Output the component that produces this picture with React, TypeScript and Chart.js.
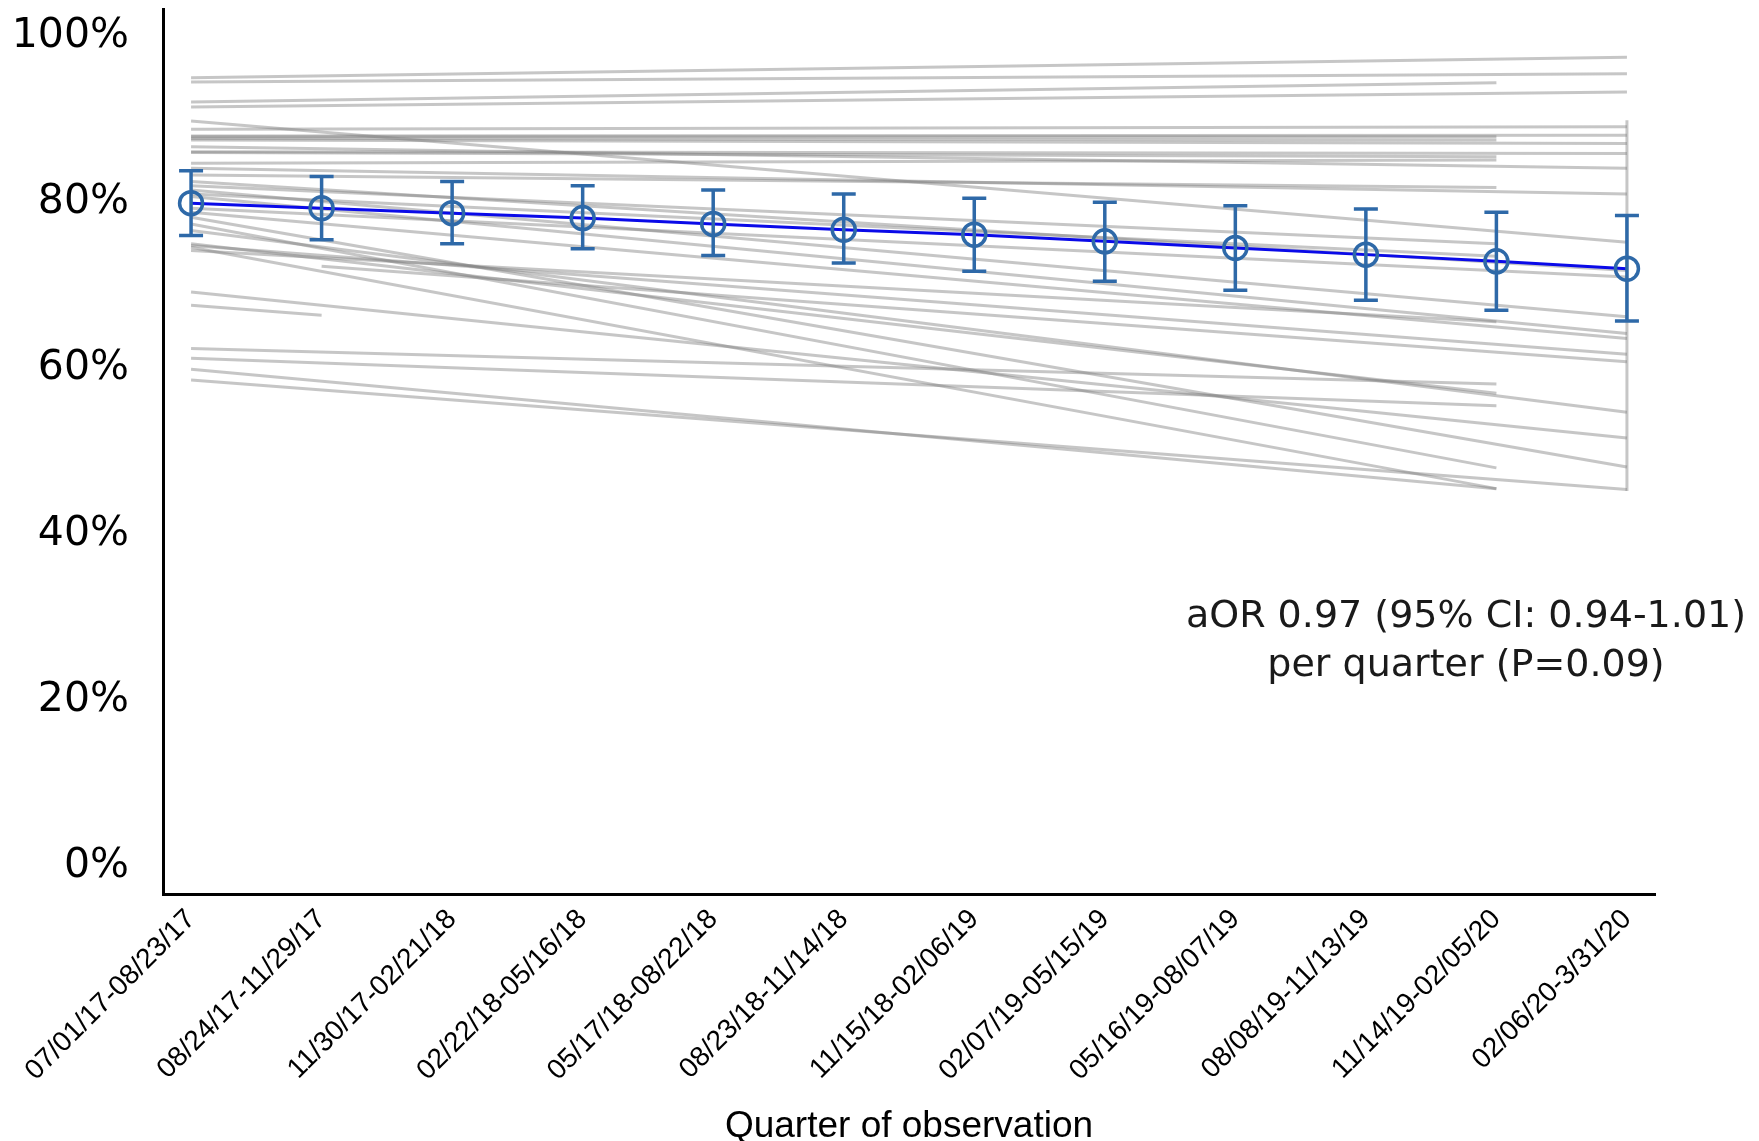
import React, { useEffect, useRef } from 'react';
import { Chart, registerables } from 'chart.js';

Chart.register(...registerables);

// ---------- data ----------
const quarterLabels = [
  '07/01/17-08/23/17',
  '08/24/17-11/29/17',
  '11/30/17-02/21/18',
  '02/22/18-05/16/18',
  '05/17/18-08/22/18',
  '08/23/18-11/14/18',
  '11/15/18-02/06/19',
  '02/07/19-05/15/19',
  '05/16/19-08/07/19',
  '08/08/19-11/13/19',
  '11/14/19-02/05/20',
  '02/06/20-3/31/20',
];

const trendPct = [79.4, 78.8, 78.2, 77.6, 76.9, 76.2, 75.6, 74.8, 74.0, 73.2, 72.4, 71.5];
const ciUpper = [83.3, 82.6, 82.0, 81.5, 81.0, 80.5, 80.0, 79.5, 79.1, 78.7, 78.3, 77.9];
const ciLower = [75.5, 75.0, 74.5, 73.9, 73.1, 72.2, 71.2, 70.0, 68.9, 67.7, 66.5, 65.2];

// individual sites: straight line from start quarter to end quarter (0-based quarter index)
const siteStartQ = [0, 0, 0, 0, 0, 0, 0, 0, 0, 0, 0, 0, 0, 0, 0, 0, 0, 0, 0, 0, 0, 0, 0, 0, 0, 0, 0, 0, 0, 0, 0, 0, 1, 0, 0, 0, 0];
const siteStartPct = [94.5, 94.0, 91.6, 91.0, 89.3, 88.3, 87.5, 87.4, 87.2, 87.0, 86.2, 85.6, 85.5, 84.2, 83.6, 82.8, 82.0, 81.5, 81.0, 80.5, 77.7, 78.8, 80.2, 76.9, 76.1, 78.3, 73.7, 74.3, 74.1, 74.5, 68.7, 67.1, 71.8, 61.9, 60.7, 59.4, 58.1];
const siteEndQ = [11, 11, 10, 11, 11, 11, 11, 10, 10, 11, 11, 11, 10, 10, 11, 10, 11, 10, 11, 10, 11, 11, 11, 10, 11, 11, 10, 11, 10, 10, 11, 1, 11, 10, 10, 10, 11];
const siteEndPct = [97.0, 95.0, 93.9, 92.8, 74.7, 88.6, 87.6, 87.4, 87.0, 86.6, 83.6, 85.4, 85.0, 84.6, 80.5, 81.3, 71.3, 74.5, 65.7, 73.0, 47.6, 70.5, 63.7, 47.5, 54.2, 63.1, 65.1, 61.2, 45.0, 56.5, 51.1, 65.9, 60.3, 57.6, 55.0, 45.0, 44.9];

// vertical range line drawn at the last quarter
const lastQuarterRange = [89.4, 44.7];

const yTickValues = [0, 20, 40, 60, 80, 100];

const annotationLines = ['aOR 0.97 (95% CI: 0.94-1.01)', 'per quarter (P=0.09)'];

// ---------- styles ----------
const GRAY = 'rgba(128,128,128,0.45)';
const TREND_BLUE = '#0A0AE8';
const CI_BLUE = '#2E69A8';

const errorBarPlugin = {
  id: 'errorBars',
  afterDatasetsDraw(chart: any) {
    const { ctx, scales } = chart;
    const x = scales.x;
    const y = scales.y;
    ctx.save();
    ctx.strokeStyle = CI_BLUE;
    ctx.lineWidth = 3.5;
    for (let i = 0; i < trendPct.length; i++) {
      const px = x.getPixelForValue(i);
      const top = y.getPixelForValue(ciUpper[i]);
      const bot = y.getPixelForValue(ciLower[i]);
      ctx.beginPath();
      ctx.moveTo(px, top);
      ctx.lineTo(px, bot);
      ctx.moveTo(px - 12, top);
      ctx.lineTo(px + 12, top);
      ctx.moveTo(px - 12, bot);
      ctx.lineTo(px + 12, bot);
      ctx.stroke();
    }
    ctx.restore();
  },
};

const annotationPlugin = {
  id: 'annotationText',
  afterDraw(chart: any) {
    const { ctx, chartArea } = chart;
    ctx.save();
    ctx.fillStyle = '#1a1a1a';
    ctx.font = '38px "DejaVu Sans"';
    ctx.textAlign = 'center';
    ctx.textBaseline = 'middle';
    const cx = chartArea.right - 189;
    ctx.fillText(annotationLines[0], cx, 617);
    ctx.fillText(annotationLines[1], cx, 666);
    ctx.restore();
  },
};

export default function App() {
  const canvasRef = useRef<HTMLCanvasElement | null>(null);

  useEffect(() => {
    document.body.style.margin = '0';
    const canvas = canvasRef.current;
    if (!canvas) return;

    const siteDatasets = siteStartQ.map((sq, i) => ({
      type: 'line' as const,
      data: [
        { x: sq, y: siteStartPct[i] },
        { x: siteEndQ[i], y: siteEndPct[i] },
      ],
      borderColor: GRAY,
      borderWidth: 3,
      pointRadius: 0,
      fill: false,
      tension: 0,
    }));

    const chart = new Chart(canvas, {
      type: 'line',
      data: {
        datasets: [
          {
            data: trendPct.map((v, i) => ({ x: i, y: v })),
            borderColor: TREND_BLUE,
            borderWidth: 3,
            pointRadius: 11.5,
            pointBorderWidth: 3.5,
            pointBorderColor: CI_BLUE,
            pointBackgroundColor: 'rgba(0,0,0,0)',
            pointStyle: 'circle',
            fill: false,
            tension: 0,
          },
          ...siteDatasets,
          {
            data: [
              { x: quarterLabels.length - 1, y: lastQuarterRange[0] },
              { x: quarterLabels.length - 1, y: lastQuarterRange[1] },
            ],
            borderColor: GRAY,
            borderWidth: 3,
            pointRadius: 0,
            fill: false,
          },
        ] as any,
      },
      options: {
        responsive: false,
        animation: false,
        events: [],
        layout: { autoPadding: false, padding: { top: 9, right: 104, bottom: 0, left: 0 } },
        plugins: {
          legend: { display: false },
          tooltip: { enabled: false },
          title: { display: false },
        },
        scales: {
          x: {
            type: 'linear',
            min: -0.215,
            max: 11.215,
            grid: { display: false, drawTicks: false },
            border: { display: true, color: '#000', width: 3 },
            afterBuildTicks: (axis: any) => {
              axis.ticks = quarterLabels.map((_, i) => ({ value: i }));
            },
            afterFit: (s: any) => {
              s.height = 247;
            },
            ticks: {
              autoSkip: false,
              minRotation: 45,
              maxRotation: 45,
              padding: 9,
              color: '#000',
              font: { family: '"Liberation Sans", Arial, sans-serif', size: 28 },
              callback: (v: any) => quarterLabels[Math.round(Number(v))] ?? '',
            },
            title: {
              display: true,
              text: 'Quarter of observation',
              color: '#000',
              font: { family: '"Liberation Sans", Arial, sans-serif', size: 37, lineHeight: 0.75 },
              padding: { top: 0, bottom: 0 },
            },
          },
          y: {
            type: 'linear',
            min: -3.85,
            max: 102.8,
            grid: { display: false, drawTicks: false },
            border: { display: true, color: '#000', width: 3 },
            afterBuildTicks: (axis: any) => {
              axis.ticks = yTickValues.map((v) => ({ value: v }));
            },
            afterFit: (s: any) => {
              s.width = 163;
              s.paddingTop = 0;
              s.paddingBottom = 0;
            },
            ticks: {
              padding: 34,
              labelOffset: 4,
              color: '#000',
              font: { family: '"DejaVu Sans", sans-serif', size: 41 },
              callback: (v: any) => `${v}%`,
            },
          },
        },
      } as any,
      plugins: [errorBarPlugin, annotationPlugin],
    });

    return () => {
      chart.destroy();
    };
  }, []);

  return (
    <div style={{ width: 1759, height: 1141, position: 'relative', background: '#fff' }}>
      <canvas ref={canvasRef} width={1759} height={1141} style={{ display: 'block' }} />
    </div>
  );
}
